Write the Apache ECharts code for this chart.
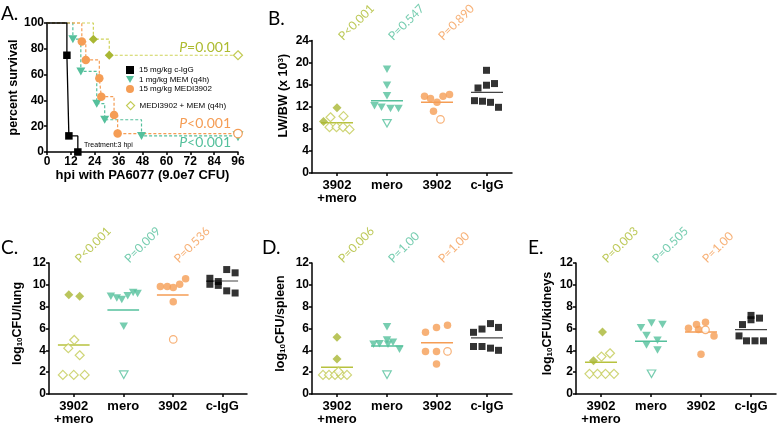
<!DOCTYPE html>
<html><head><meta charset="utf-8">
<script src="https://cdn.jsdelivr.net/npm/echarts@6/dist/echarts.min.js"></script>
<style>html,body{margin:0;padding:0;background:#fff}#c{width:777px;height:426px}</style>
</head><body><div id="c"></div>
<script>
// ---------------- DATA ----------------
// Panel A: Kaplan-Meier survival (time in hpi, survival %)
const aIgGTime = [0, 10, 11, 15.5];
const aIgGSurv = [100, 75, 12.5, 0];
const aMemTime = [0, 13, 17, 25, 29, 47.5, 96];
const aMemSurv = [100, 87.5, 62.5, 37.5, 25, 12.5, 12.5];
const aMediTime = [0, 17.5, 19.5, 26.3, 27.3, 33.7, 35.5, 96];
const aMediSurv = [100, 85.7, 71.4, 57.1, 42.9, 28.6, 14.3, 14.3];
const aComboTime = [0, 23.3, 31.3, 96];
const aComboSurv = [100, 87.5, 75, 75];
const aSeriesNames = ['15 mg/kg c-IgG', '1 mg/kg MEM (q4h)', '15 mg/kg MEDI3902', 'MEDI3902 + MEM (q4h)'];
const aPvals = ['P=0.001', 'P<0.001', 'P<0.001'];

// Panels B-E categories
const groups = ['3902\n+mero', 'mero', '3902', 'c-IgG'];

// Panel B: LW/BW (x10^3)
const B_combo = [11.8, 9.35, 10.1, 10.3, 8.3, 8.3, 8.3, 7.9];
const B_comboJit = [0, -0.27, -0.13, 0.13, -0.15, -0.01, 0.12, 0.25];
const B_comboOpen = [0, 0, 1, 1, 1, 1, 1, 1];
const B_mero = [18.8, 15.9, 14.0, 12.2, 11.9, 11.7, 11.7, 9.0];
const B_meroJit = [0, 0, 0, -0.25, -0.11, 0.07, 0.23, 0];
const B_meroOpen = [0, 0, 0, 0, 0, 0, 0, 1];
const B_3902 = [13.9, 13.5, 12.8, 13.9, 14.2, 11.2, 9.7];
const B_3902Jit = [-0.25, -0.13, 0, 0.12, 0.25, -0.07, 0.07];
const B_3902Open = [0, 0, 0, 0, 0, 0, 1];
const B_igg = [18.6, 15.4, 15.9, 16.2, 13.1, 13.0, 12.8, 11.9];
const B_iggJit = [-0.01, -0.18, -0.01, 0.15, -0.25, -0.09, 0.07, 0.23];
const B_means = [9.1, 13.1, 12.8, 14.6];
const B_pvals = ['P<0.001', 'P=0.547', 'P=0.890'];

// Panel C: log10 CFU/lung
const C_combo = [9.09, 8.95, 4.95, 4.2, 3.55, 1.75, 1.75, 1.75];
const C_comboJit = [-0.1, 0.12, 0.01, -0.11, 0.12, -0.22, 0, 0.22];
const C_comboOpen = [0, 0, 1, 1, 1, 1, 1, 1];
const C_mero = [8.95, 8.8, 8.65, 9.0, 9.3, 9.2, 6.2, 1.77];
const C_meroJit = [-0.25, -0.13, -0.03, 0.09, 0.2, 0.29, 0.01, 0.01];
const C_meroOpen = [0, 0, 0, 0, 0, 0, 0, 1];
const C_3902 = [9.85, 9.85, 9.75, 10.05, 10.55, 8.45, 5.0];
const C_3902Jit = [-0.25, -0.11, 0.01, 0.14, 0.26, 0.01, 0.01];
const C_3902Open = [0, 0, 0, 0, 0, 0, 1];
const C_igg = [10.6, 10.05, 10.3, 11.4, 11.1, 9.95, 9.45, 9.25];
const C_iggJit = [-0.25, -0.25, -0.08, 0.09, 0.26, -0.08, 0.09, 0.26];
const C_means = [4.5, 7.7, 9.06, 10.35];
const C_pvals = ['P<0.001', 'P=0.009', 'P=0.536'];

// Panel D: log10 CFU/spleen
const D_combo = [5.2, 3.2, 1.75, 1.75, 1.75, 1.75, 1.75, 2.05];
const D_comboJit = [0, 0, -0.28, -0.16, -0.04, 0.08, 0.2, 0.03];
const D_comboOpen = [0, 0, 1, 1, 1, 1, 1, 1];
const D_mero = [6.15, 4.95, 4.55, 4.6, 4.55, 4.75, 4.1, 1.77];
const D_meroJit = [0, 0, -0.27, -0.15, 0.02, 0.12, 0.25, 0];
const D_meroOpen = [0, 0, 0, 0, 0, 0, 0, 1];
const D_3902 = [5.65, 6.1, 6.3, 3.9, 3.9, 2.75, 3.9];
const D_3902Jit = [-0.23, -0.01, 0.21, -0.23, -0.01, -0.01, 0.21];
const D_3902Open = [0, 0, 0, 0, 0, 0, 1];
const D_igg = [5.65, 5.95, 6.45, 6.1, 4.35, 4.35, 4.2, 4.0];
const D_iggJit = [-0.27, -0.1, 0.07, 0.23, -0.27, -0.1, 0.07, 0.23];
const D_means = [2.45, 4.4, 4.7, 5.15];
const D_pvals = ['P=0.006', 'P=1.00', 'P=1.00'];

// Panel E: log10 CFU/kidneys
const E_combo = [5.67, 3.04, 3.43, 3.73, 1.85, 1.85, 1.85, 1.85];
const E_comboJit = [0.03, -0.15, 0.01, 0.18, -0.23, -0.07, 0.09, 0.26];
const E_comboOpen = [0, 0, 1, 1, 1, 1, 1, 1];
const E_mero = [6.06, 6.5, 6.36, 5.37, 4.92, 4.48, 4.03, 1.85];
const E_meroJit = [-0.2, 0.01, 0.23, -0.09, 0.13, -0.09, 0.13, 0.01];
const E_meroOpen = [0, 0, 0, 0, 0, 0, 0, 1];
const E_3902 = [6.03, 6.36, 6.57, 5.9, 5.32, 3.64, 5.88];
const E_3902Jit = [-0.25, -0.09, 0.09, -0.05, 0.26, 0, 0.09];
const E_3902Open = [0, 0, 0, 0, 0, 0, 1];
const E_igg = [6.36, 7.2, 6.8, 6.95, 5.32, 4.87, 4.87, 4.87];
const E_iggJit = [-0.17, 0, 0, 0.17, -0.24, -0.09, 0.08, 0.25];
const E_means = [2.9, 4.84, 5.67, 5.9];
const E_pvals = ['P=0.003', 'P=0.505', 'P=1.00'];

// ---------------- STYLE ----------------
const OLIVE = '#a9b733', OLIVE_L = '#c3cb55', OLIVE_TXT = '#adbb30', OLIVE_DASH = '#cfd35a';
const TEAL = '#55c09c', ORANGE = '#f59d55', BLACK = '#000';
const FONT = 'Liberation Sans';
const LFONT = 'Lato';
const TRI = 'path://M0,0L10,0L5,8.66Z';
const gStyle = [
  {color: OLIVE, open: OLIVE_L, symbol: 'diamond', size: 9, mean: '#b7c23e', ptxt: OLIVE_TXT},
  {color: TEAL, open: TEAL, symbol: TRI, size: [8.5, 7.5], mean: TEAL, ptxt: TEAL},
  {color: ORANGE, open: ORANGE, symbol: 'circle', size: 7.5, mean: ORANGE, ptxt: ORANGE},
  {color: BLACK, open: BLACK, symbol: 'rect', size: 7, mean: '#444', ptxt: BLACK}
];

const grids = [
  {left: 47, top: 23, width: 191, height: 129},
  {left: 312, top: 40.5, width: 200, height: 132.5},
  {left: 49, top: 263, width: 198, height: 134},
  {left: 312, top: 263, width: 200, height: 134},
  {left: 576, top: 263, width: 200, height: 134}
];

const xAxes = [], yAxes = [], series = [];

function yAxisCfg(gi, max, interval, name, nameGap, pad) {
  return {
    type: 'value', gridIndex: gi, min: 0, max: max, interval: interval,
    name: name, nameLocation: 'middle', nameGap: nameGap,
    nameTextStyle: {fontFamily: FONT, fontWeight: 'bold', fontSize: 12.5, color: '#000', padding: pad || 0,
      rich: {
        sub: {fontFamily: FONT, fontWeight: 'bold', fontSize: 8, color: '#000', verticalAlign: 'bottom', padding: [5, 0, 0, 0]},
        sup: {fontFamily: FONT, fontWeight: 'bold', fontSize: 8, color: '#000', verticalAlign: 'top', padding: [0, 0, 5, 0]}
      }},
    axisLine: {show: true, onZero: false, lineStyle: {color: '#000', width: 1.5}},
    axisTick: {show: true, length: 3, lineStyle: {color: '#000', width: 1.5}},
    axisLabel: {fontFamily: FONT, fontWeight: 'bold', fontSize: 12, color: '#000', margin: 3},
    splitLine: {show: false}
  };
}

// ----- Panel A -----
xAxes.push({
  type: 'value', gridIndex: 0, min: 0, max: 96, interval: 12,
  name: 'hpi with PA6077 (9.0e7 CFU)', nameLocation: 'middle', nameGap: 15,
  nameTextStyle: {fontFamily: FONT, fontWeight: 'bold', fontSize: 13, color: '#000'},
  axisLine: {show: true, onZero: false, lineStyle: {color: '#000', width: 1.5}},
  axisTick: {show: true, length: 3, lineStyle: {color: '#000', width: 1.5}},
  axisLabel: {fontFamily: FONT, fontWeight: 'bold', fontSize: 12, color: '#000', margin: 4},
  splitLine: {show: false}
});
yAxes.push(yAxisCfg(0, 100, 20, 'percent survival', 27));

function kmSeries(name, times, surv, color, sym, symSize, dashed, openEnd) {
  const data = times.map((t, i) => {
    const item = {value: [t, surv[i]]};
    if (i === 0) item.symbol = 'none';
    else if (openEnd && i === times.length - 1) item.itemStyle = {color: '#fff', borderColor: color.open, borderWidth: 1.2};
    return item;
  });
  return {
    type: 'line', name: name, xAxisIndex: 0, yAxisIndex: 0, step: 'end',
    symbol: sym, symbolSize: symSize, showAllSymbol: true, animation: false, clip: false,
    lineStyle: {color: color.line, width: dashed ? 1.2 : 1.3, type: dashed ? [3, 2] : 'solid'},
    itemStyle: {color: color.main},
    data: data
  };
}
series.push(kmSeries(aSeriesNames[3], aComboTime, aComboSurv, {main: OLIVE, line: OLIVE_DASH, open: OLIVE_L}, 'diamond', 9, true, true));
series.push(kmSeries(aSeriesNames[1], aMemTime, aMemSurv, {main: TEAL, line: TEAL, open: TEAL}, TRI, [9, 8], true, true));
series.push(kmSeries(aSeriesNames[2], aMediTime, aMediSurv, {main: ORANGE, line: ORANGE, open: ORANGE}, 'circle', 8.5, true, true));
series.push(kmSeries(aSeriesNames[0], aIgGTime, aIgGSurv, {main: BLACK, line: BLACK, open: BLACK}, 'rect', 7.5, false, false));

// ----- Panels B-E -----
const panelDefs = [
  {g: 1, max: 24, int: 4, name: 'LW/BW (x 10{sup|3})', gap: 22, pad: [0, 0, 0, 22],
   vals: [B_combo, B_mero, B_3902, B_igg], jit: [B_comboJit, B_meroJit, B_3902Jit, B_iggJit],
   open: [B_comboOpen, B_meroOpen, B_3902Open, null], means: B_means, p: B_pvals},
  {g: 2, max: 12, int: 2, name: 'log{sub|10}CFU/lung', gap: 25, pad: [0, 0, 0, 10],
   vals: [C_combo, C_mero, C_3902, C_igg], jit: [C_comboJit, C_meroJit, C_3902Jit, C_iggJit],
   open: [C_comboOpen, C_meroOpen, C_3902Open, null], means: C_means, p: C_pvals},
  {g: 3, max: 12, int: 2, name: 'log{sub|10}CFU/spleen', gap: 25, pad: [0, 0, 0, 10],
   vals: [D_combo, D_mero, D_3902, D_igg], jit: [D_comboJit, D_meroJit, D_3902Jit, D_iggJit],
   open: [D_comboOpen, D_meroOpen, D_3902Open, null], means: D_means, p: D_pvals},
  {g: 4, max: 12, int: 2, name: 'log{sub|10}CFU/kidneys', gap: 22, pad: [0, 0, 0, 10],
   vals: [E_combo, E_mero, E_3902, E_igg], jit: [E_comboJit, E_meroJit, E_3902Jit, E_iggJit],
   open: [E_comboOpen, E_meroOpen, E_3902Open, null], means: E_means, p: E_pvals}
];

panelDefs.forEach(pd => {
  xAxes.push({
    type: 'category', gridIndex: pd.g, data: groups, boundaryGap: true, position: 'bottom',
    axisLine: {show: true, onZero: false, lineStyle: {color: '#000', width: 1.5}},
    axisTick: {show: true, alignWithLabel: true, length: 3, lineStyle: {color: '#000', width: 1.5}},
    axisLabel: {fontFamily: FONT, fontWeight: 'bold', fontSize: 13, color: '#000', margin: 6, lineHeight: 13, interval: 0},
    splitLine: {show: false}
  });
  const valIdx = xAxes.length;
  xAxes.push({type: 'value', gridIndex: pd.g, min: -0.5, max: 3.5, show: false, position: 'top',
    axisLine: {onZero: false}});
  const yIdx = yAxes.length;
  yAxes.push(yAxisCfg(pd.g, pd.max, pd.int, pd.name, pd.gap, pd.pad));

  pd.vals.forEach((vals, gi) => {
    const st = gStyle[gi];
    const data = vals.map((v, i) => {
      const isOpen = pd.open[gi] && pd.open[gi][i];
      const item = {value: [gi + pd.jit[gi][i], v]};
      if (isOpen) item.itemStyle = {color: '#fff', borderColor: st.open, borderWidth: 1.2};
      return item;
    });
    series.push({
      type: 'scatter', xAxisIndex: valIdx, yAxisIndex: yIdx, symbol: st.symbol, symbolSize: st.size,
      itemStyle: {color: st.color}, data: data, animation: false, clip: false, z: 3
    });
    series.push({
      type: 'line', xAxisIndex: valIdx, yAxisIndex: yIdx, symbol: 'none', animation: false, z: 2,
      lineStyle: {color: st.mean, width: gi === 3 ? 1.2 : 1.5},
      data: [[gi - 0.32, pd.means[gi]], [gi + 0.32, pd.means[gi]]]
    });
  });
  series.push({
    type: 'scatter', xAxisIndex: valIdx, yAxisIndex: yIdx, symbolSize: 0, animation: false, silent: true,
    data: pd.p.map((t, i) => ({value: [i, pd.max], label: {color: gStyle[i].ptxt}})),
    label: {
      show: true, position: 'inside', align: 'left', verticalAlign: 'bottom', rotate: 45,
      offset: [4, 7], fontFamily: LFONT, fontSize: 12, fontWeight: 'normal',
      formatter: (p) => pd.p[p.dataIndex]
    }
  });
});

const chart = echarts.init(document.getElementById('c'), null, {renderer: 'canvas'});
chart.setOption({
  animation: false,
  backgroundColor: '#fff',
  grid: grids.map(g => Object.assign({containLabel: false}, g)),
  xAxis: xAxes,
  yAxis: yAxes,
  legend: [
    {data: [
      {name: aSeriesNames[0], icon: 'rect'},
      {name: aSeriesNames[1], icon: TRI},
      {name: aSeriesNames[2], icon: 'circle'}
     ],
     orient: 'vertical', left: 126, top: 66, itemWidth: 8, itemHeight: 8, itemGap: 1.5, padding: 0,
     selectedMode: false, textStyle: {fontFamily: FONT, fontSize: 8, color: '#000'}},
    {data: [{name: aSeriesNames[3], icon: 'diamond', itemStyle: {color: '#fff', borderColor: OLIVE_L, borderWidth: 1.2}}],
     orient: 'vertical', left: 126, top: 101, itemWidth: 8, itemHeight: 8, padding: 0,
     selectedMode: false, textStyle: {fontFamily: FONT, fontSize: 8, color: '#000'}}
  ],
  graphic: [
    {type: 'text', left: 1, top: 4, style: {text: 'A.', font: '19px Lato', fill: '#000'}},
    {type: 'text', left: 268, top: 9, style: {text: 'B.', font: '19px Lato', fill: '#000'}},
    {type: 'text', left: 1, top: 238, style: {text: 'C.', font: '19px Lato', fill: '#000'}},
    {type: 'text', left: 262, top: 238, style: {text: 'D.', font: '19px Lato', fill: '#000'}},
    {type: 'text', left: 528, top: 238, style: {text: 'E.', font: '19px Lato', fill: '#000'}},
    {type: 'text', x: 84, y: 145, style: {text: 'Treatment:3 hpi', font: '7px "Liberation Sans"', fill: '#000', verticalAlign: 'middle'}},
    {type: 'text', x: 231, y: 47, style: {text: '{i|P}' + aPvals[0].slice(1), fill: OLIVE_TXT, font: '14px Lato', align: 'right', verticalAlign: 'middle',
      rich: {i: {font: 'italic 14px Lato', fill: OLIVE_TXT}}}},
    {type: 'text', x: 231, y: 123, style: {text: '{i|P}' + aPvals[1].slice(1), fill: ORANGE, font: '14px Lato', align: 'right', verticalAlign: 'middle',
      rich: {i: {font: 'italic 14px Lato', fill: ORANGE}}}},
    {type: 'text', x: 231, y: 142, style: {text: '{i|P}' + aPvals[2].slice(1), fill: TEAL, font: '14px Lato', align: 'right', verticalAlign: 'middle',
      rich: {i: {font: 'italic 14px Lato', fill: TEAL}}}}
  ],
  series: series
});
</script>
</body></html>
